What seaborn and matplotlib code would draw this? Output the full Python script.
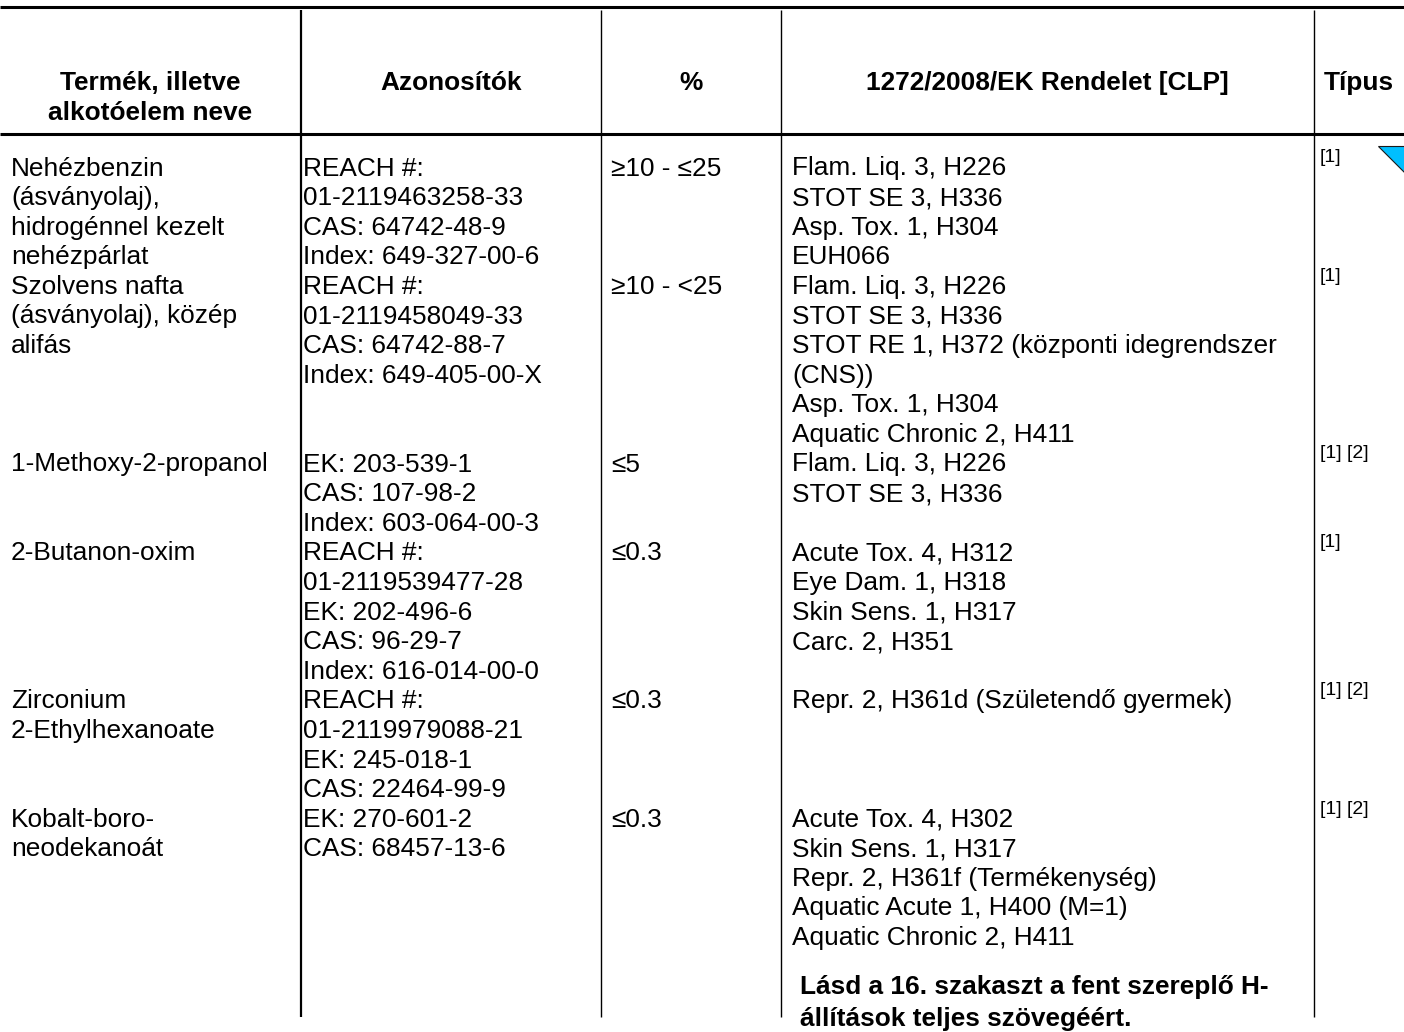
import matplotlib
matplotlib.use("Agg")
import matplotlib.pyplot as plt
import seaborn as sns
from matplotlib.patches import Polygon

# ---- data ----
headers = [["Termék, illetve", "alkotóelem neve"], ["Azonosítók"], ["%"],
           ["1272/2008/EK Rendelet [CLP]"], ["Típus"]]
names = [["Nehézbenzin", "(ásványolaj),", "hidrogénnel kezelt", "nehézpárlat"],
         ["Szolvens nafta", "(ásványolaj), közép", "alifás"],
         ["1-Methoxy-2-propanol"],
         ["2-Butanon-oxim"],
         ["Zirconium", "2-Ethylhexanoate"],
         ["Kobalt-boro-", "neodekanoát"]]
identifiers = [["REACH #:", "01-2119463258-33", "CAS: 64742-48-9", "Index: 649-327-00-6"],
               ["REACH #:", "01-2119458049-33", "CAS: 64742-88-7", "Index: 649-405-00-X"],
               ["EK: 203-539-1", "CAS: 107-98-2", "Index: 603-064-00-3"],
               ["REACH #:", "01-2119539477-28", "EK: 202-496-6", "CAS: 96-29-7", "Index: 616-014-00-0"],
               ["REACH #:", "01-2119979088-21", "EK: 245-018-1", "CAS: 22464-99-9"],
               ["EK: 270-601-2", "CAS: 68457-13-6"]]
percents = ["≥10 - ≤25", "≥10 - <25", "≤5", "≤0.3", "≤0.3", "≤0.3"]
clp = [["Flam. Liq. 3, H226", "STOT SE 3, H336", "Asp. Tox. 1, H304", "EUH066"],
       ["Flam. Liq. 3, H226", "STOT SE 3, H336", "STOT RE 1, H372 (központi idegrendszer",
        "(CNS))", "Asp. Tox. 1, H304", "Aquatic Chronic 2, H411"],
       ["Flam. Liq. 3, H226", "STOT SE 3, H336"],
       ["Acute Tox. 4, H312", "Eye Dam. 1, H318", "Skin Sens. 1, H317", "Carc. 2, H351"],
       ["Repr. 2, H361d (Születendő gyermek)"],
       ["Acute Tox. 4, H302", "Skin Sens. 1, H317", "Repr. 2, H361f (Termékenység)",
        "Aquatic Acute 1, H400 (M=1)", "Aquatic Chronic 2, H411"]]
types = ["[1]", "[1]", "[1] [2]", "[1]", "[1] [2]", "[1] [2]"]
footnote = ["Lásd a 16. szakaszt a fent szereplő H-", "állítások teljes szövegéért."]

# ---- layout ----
sns.set_theme(style="white")
FAM = ["Liberation Sans", "DejaVu Sans"]
plt.rcParams["font.family"] = FAM

W, H = 1404, 1032
fig = plt.figure(figsize=(W / 100, H / 100), dpi=100)
ax = fig.add_axes([0, 0, 1, 1])
ax.set_xlim(0, W)
ax.set_ylim(H, 0)
ax.axis("off")

col_edges = [0, 301, 601, 781, 1314, W]
text_x = [11, 303, 611, 792, 1320]
FS = 18.9
TYPE_FS = 14
base0 = 175.5
step = 29.6

# horizontal rules
ax.plot([0, W], [7, 7], color="black", lw=2.2, solid_capstyle="butt")
ax.plot([0, W], [134, 134], color="black", lw=2.2, solid_capstyle="butt")
# vertical rules
for i, x in enumerate(col_edges[1:-1]):
    ax.plot([x, x], [10, 1017], color="black", lw=1.6 if i == 0 else 1.0,
            solid_capstyle="butt")

# header
hdr_base = [90, 120]
for c, lines in enumerate(headers):
    cx = (col_edges[c] + col_edges[c + 1]) / 2
    for j, t in enumerate(lines):
        ax.text(cx, hdr_base[j], t, ha="center", va="baseline",
                fontsize=FS, fontweight="bold", color="black")

# body
row_start = 0
for r in range(len(names)):
    cols = [names[r], identifiers[r], [percents[r]], clp[r]]
    for c, lines in enumerate(cols):
        for j, t in enumerate(lines):
            y = base0 + step * (row_start + j)
            ax.text(text_x[c], y, t, ha="left", va="baseline", fontsize=FS,
                    color="black")
    ax.text(text_x[4], base0 + step * row_start - 26, types[r], ha="left",
            va="top", fontsize=TYPE_FS, color="black")
    row_start += max(len(l) for l in cols)

# footnote
fbase = [994, 1026]
for j, t in enumerate(footnote):
    ax.text(800, fbase[j], t, ha="left", va="baseline", fontsize=FS,
            fontweight="bold", color="black")

# blue marker triangle at top right
ax.add_patch(Polygon([[1378, 146], [1408, 146], [1408, 176]], closed=True,
                     facecolor="#00BFFF", edgecolor="#1a1a1a", lw=0.8,
                     clip_on=True))

fig.savefig("out.png", dpi=100, facecolor="white")
